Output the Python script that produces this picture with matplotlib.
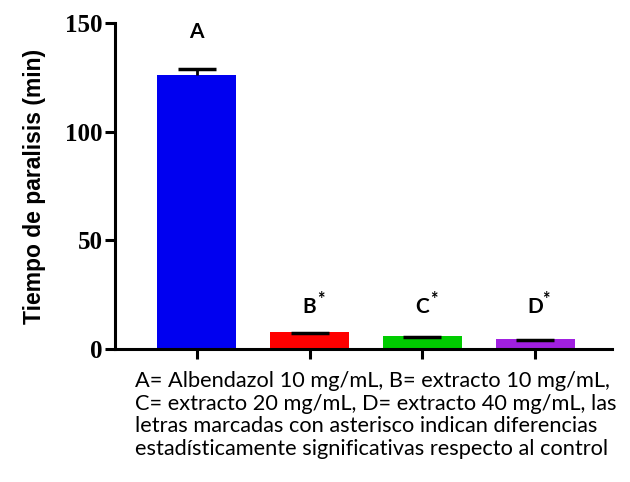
import numpy as np
import matplotlib.pyplot as plt

# data
groups = ["A", "B", "C", "D"]
means = [126.0, 7.8, 5.9, 4.6]
sem = [3.2, 0.0, 0.0, 0.0]
colors = ["#0000f0", "#ff0000", "#00cc00", "#a020e0"]
stars = ["", "*", "*", "*"]
yticks = [0, 50, 100, 150]

caption = ("A= Albendazol 10 mg/mL, B= extracto 10 mg/mL,\n"
           "C= extracto 20 mg/mL, D= extracto 40 mg/mL, las\n"
           "letras marcadas con asterisco indican diferencias\n"
           "estadísticamente significativas respecto al control")

fig = plt.figure(figsize=(6.3, 4.82), dpi=100)
ax = fig.add_axes([0.1825, 0.276, 0.7885, 0.676])

x = np.arange(len(groups))
means = np.array(means)
sem = np.array(sem)
ax.bar(x, means, width=0.7, color=colors, zorder=2)
# upper-only error bars: stem + single cap
ax.vlines(x, means, means + sem, color="black", lw=2, zorder=3)
ax.plot(x, means + sem - 0.3, ls="none", marker="_", ms=27, mew=2.5,
        color="black", zorder=3)

# letters above bars
for xi, m, g, s in zip(x, means, groups, stars):
    y = 146 if m > 50 else 19.5
    ax.text(xi, y, g, ha="center", va="center", fontsize=15,
            fontweight="bold", family="Lato")
    if s:
        ax.text(xi + 0.1, y + 3.5, s, ha="center", va="center",
                fontsize=13, fontweight="bold", family="Lato")

ax.set_xlim(-0.725, 3.68)
ax.set_ylim(0, 150)
ax.set_yticks(yticks)
ax.set_xticks(x)
ax.set_xticklabels([])
for lab in ax.get_yticklabels():
    lab.set_fontfamily("Liberation Serif")
    lab.set_fontweight("bold")
    lab.set_fontsize(18)

ax.spines["top"].set_visible(False)
ax.spines["right"].set_visible(False)
ax.spines["left"].set_linewidth(2.2)
ax.spines["bottom"].set_linewidth(2.2)
ax.tick_params(width=2.2, length=7, pad=2)

ax.set_ylabel("Tiempo de paralisis (min)", fontsize=16.5, fontweight="bold",
              family="Liberation Sans", labelpad=14)

fig.text(135 / 630, 1 - 371 / 482, caption, ha="left", va="top",
         fontsize=15.7, family="Lato", linespacing=1.16)

fig.savefig("out.png", dpi=100)
